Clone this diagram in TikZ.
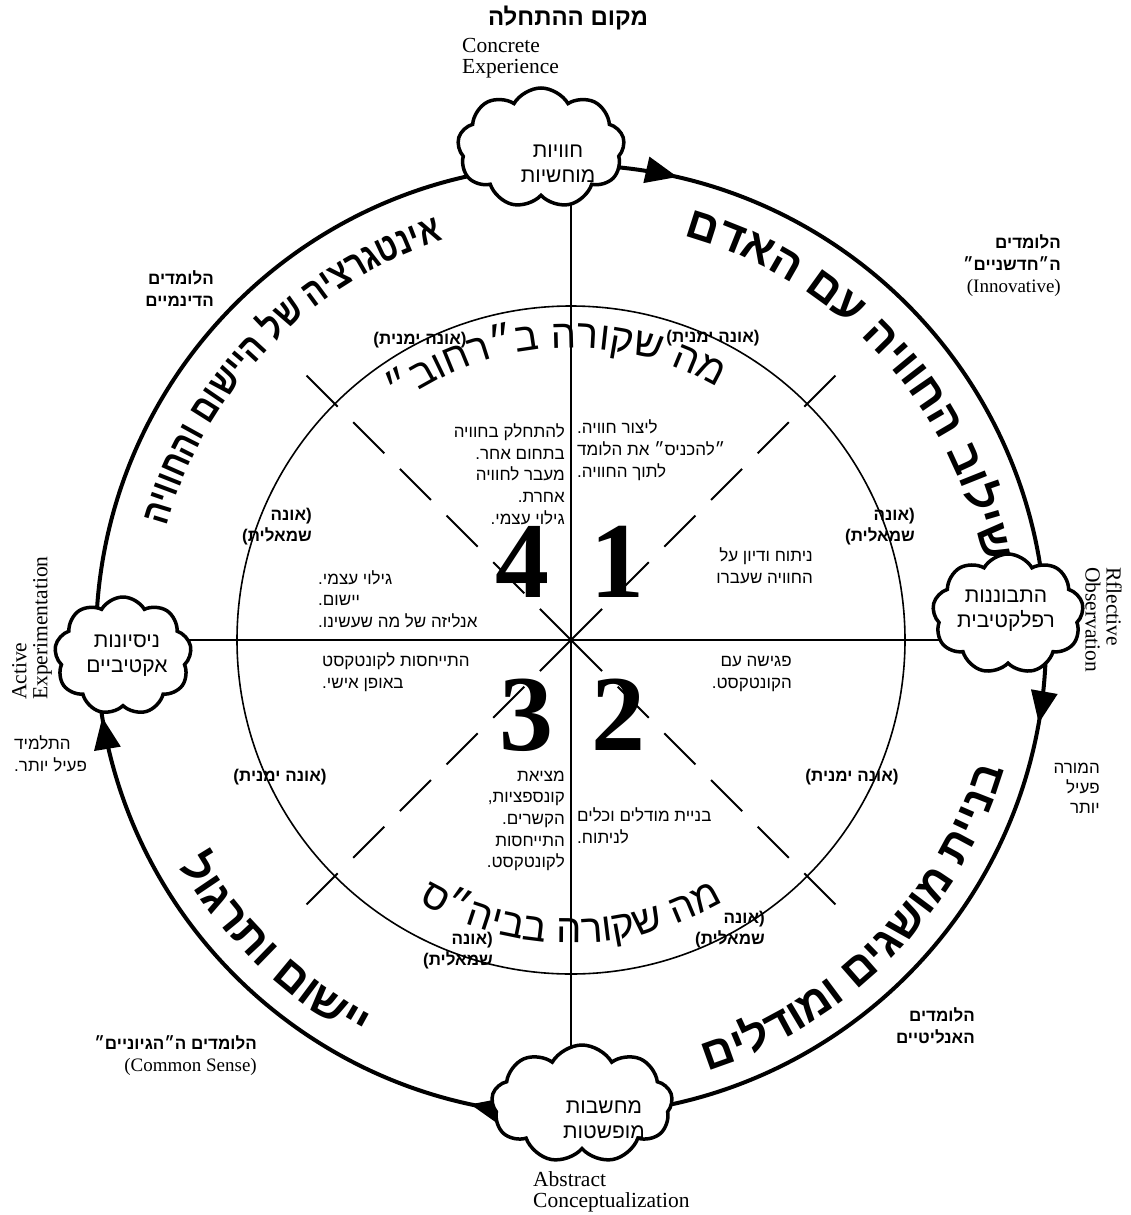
\documentclass[tikz,border=0pt]{standalone}
\usepackage{fontspec}
\setmainfont{Liberation Serif}
\newfontfamily\heb[Script=Hebrew]{Liberation Sans}
\newfontfamily\hebnarrow[Script=Hebrew,FakeStretch=0.8]{Liberation Sans}
\TeXXeTstate=1
\usetikzlibrary{shapes.symbols,decorations.text,decorations.markings,arrows.meta,backgrounds}
\newcommand{\hb}[1]{\beginR#1\endR}
\newcommand{\arcfont}{\heb\bfseries\fontsize{45}{45}\selectfont}
\newcommand{\arcnarrow}{\hebnarrow\bfseries\fontsize{39}{39}\selectfont}
\newcommand{\innerfont}{\heb\fontsize{40}{40}\selectfont}

\begin{document}
\begin{tikzpicture}[x=1pt,y=-1pt,
  cloudbox/.style={cloud,cloud puffs=9,cloud puff arc=120,draw,line width=3.5pt,
    fill=white,inner sep=0pt},
  stagetext/.style={align=center,inner sep=0pt,font=\heb\fontsize{21}{25}\selectfont},
  lobe/.style={font=\heb\bfseries\fontsize{17}{21}\selectfont,align=right,inner sep=0pt},
  note/.style={font=\heb\fontsize{17}{21.7}\selectfont,inner sep=0pt},
  learners/.style={font=\heb\bfseries\fontsize{17}{22}\selectfont,align=right,inner sep=0pt},
  eng/.style={font=\fontsize{21.5}{21}\selectfont,align=left,inner sep=0pt},
  digit/.style={font=\bfseries\fontsize{108}{108}\selectfont,inner sep=0pt},
  diag/.style={line width=2pt,dash pattern=on 44pt off 22pt},
  alongarc/.style={decorate,decoration={text along path,text align=center,text={#1}}}]
\useasboundingbox (0,0) rectangle (1130,1215);
\coordinate (ctr) at (571,640);

% the four stages
\node[cloudbox,minimum width=167,minimum height=120] (ctop) at (541,148) {};
\node[cloudbox,minimum width=151,minimum height=120] (cright) at (1008,614) {};
\node[cloudbox,minimum width=181,minimum height=118] (cbot) at (582,1104) {};
\node[cloudbox,minimum width=137,minimum height=118] (cleft) at (123,656) {};
\node[stagetext] (ttop) at (558,164) {\hb{חוויות}\\\hb{מוחשיות}};
\node[stagetext] (tright) at (1006,611) {\hb{התבוננות}\\\hb{רפלקטיבית}};
\node[stagetext] (tbot) at (604,1120) {\hb{מחשבות}\\\hb{מופשטות}};
\node[stagetext] (tleft) at (127,656) {\hb{ניסיונות}\\\hb{אקטיביים}};

% cycle, axes and quadrants
\begin{pgfonlayer}{background}
\draw[line width=4pt,postaction={decorate},decoration={markings,
  mark=at position 0.028 with {\arrow{Triangle[length=32pt,width=26pt]}},
  mark=at position 0.284 with {\arrow{Triangle[length=32pt,width=26pt]}},
  mark=at position 0.474 with {\arrow{Triangle[length=32pt,width=26pt]}},
  mark=at position 0.786 with {\arrow{Triangle[length=32pt,width=26pt]}}}]
  (ctr) circle[radius=475];
\draw[line width=2.2pt] (ctr |- ctop) -- (ctr |- cbot);
\draw[line width=2.2pt] (cleft |- ctr) -- (cright |- ctr);
\draw[line width=1.6pt] (ctr) circle[radius=334];
\foreach \a in {45,135,225,315}
  \draw[diag] (ctr) -- ++(\a:375);
\end{pgfonlayer}

% curved titles
\path[alongarc={|\arcfont|םדאה םע היווחה בוליש}] (ctr) ++(-88.5:420) arc[start angle=-88.5,end angle=3.5,radius=420];
\path[alongarc={|\arcnarrow|היווחהו םושייה לש היצרגטניא}] (ctr) ++(-182:420) arc[start angle=-182,end angle=-90,radius=420];
\path[alongarc={|\arcfont|םילדומו םיגשומ תיינב}] (ctr) ++(90.5:452) arc[start angle=90.5,end angle=-1.5,radius=452];
\path[alongarc={|\arcfont|לוגרתו םושיי}] (ctr) ++(174:452) arc[start angle=174,end angle=94,radius=452];
\path[alongarc={|\innerfont|״בוחר״ב הרוקש המ}] (ctr) ++(-153:292) arc[start angle=-153,end angle=-33,radius=292];
\path[alongarc={|\innerfont|ס״היבב הרוקש המ}] (ctr) ++(150:303) arc[start angle=150,end angle=30,radius=303];

% quadrant numbers
\node[digit] (q4) at (522,562) {4};
\node[digit] (q1) at (617,562) {1};
\node[digit] (q3) at (526,715) {3};
\node[digit] (q2) at (618,715) {2};

% hemispheres
\node[lobe] (lobeA) at (420,340) {\hb{(אונה ימנית)}};
\node[lobe] (lobeB) at (713,338) {\hb{(אונה ימנית)}};
\node[lobe,anchor=east] (lobeC) at (312,527) {\hb{(אונה}\\\hb{שמאלית)}};
\node[lobe,anchor=east] (lobeD) at (915,527) {\hb{(אונה}\\\hb{שמאלית)}};
\node[lobe] (lobeE) at (280,777) {\hb{(אונה ימנית)}};
\node[lobe] (lobeF) at (852,777) {\hb{(אונה ימנית)}};
\node[lobe,anchor=east] (lobeG) at (493,951) {\hb{(אונה}\\\hb{שמאלית)}};
\node[lobe,anchor=east] (lobeH) at (765,930) {\hb{(אונה}\\\hb{שמאלית)}};

% quadrant texts
\node[note,align=right,anchor=east] (n4a) at (565,474) {\hb{להתחלק בחוויה}\\\hb{בתחום אחר.}\\\hb{מעבר לחוויה}\\\hb{אחרת.}\\\hb{גילוי עצמי.}};
\node[note,align=left,anchor=west] (n1a) at (577,450) {\hb{ליצור חוויה.}\\\hb{״להכניס״ את הלומד}\\\hb{לתוך החוויה.}};
\node[note,align=left,anchor=west] (n4b) at (318,599) {\hb{גילוי עצמי.}\\\hb{יישום.}\\\hb{אנליזה של מה שעשינו.}};
\node[note,align=right,anchor=east] (n1b) at (813,566) {\hb{ניתוח ודיון על}\\\hb{החוויה שעברו}};
\node[note,align=left,anchor=west] (n3a) at (322,672) {\hb{התייחסות לקונטקסט}\\\hb{באופן אישי.}};
\node[note,align=right,anchor=east] (n2a) at (792,674) {\hb{פגישה עם}\\\hb{הקונטקסט.}};
\node[note,align=right,anchor=east] (n3b) at (565,821) {\hb{מציאת}\\\hb{קונספציות,}\\\hb{הקשרים.}\\\hb{התייחסות}\\\hb{לקונטקסט.}};
\node[note,align=left,anchor=west] (n2b) at (577,826) {\hb{בניית מודלים וכלים}\\\hb{לניתוח.}};

% outer labels
\node[font=\heb\bfseries\fontsize{24}{24}\selectfont] (start) at (568,18) {\hb{מקום ההתחלה}};
\node[eng,anchor=west] (ce) at (462,58) {Concrete\\Experience};
\node[eng,rotate=-90,anchor=north west] (ro) at (1122,567) {Rflective\\Observation};
\node[eng,anchor=west] (ac) at (533,1192) {Abstract\\Conceptualization};
\node[eng,rotate=90,anchor=north west] (ae) at (12,700) {Active\\Experimentation};
\node[learners,anchor=east] (innov) at (1061,266) {\hb{הלומדים}\\\hb{ה״חדשניים״}\\{\rmfamily\mdseries\fontsize{19}{22}\selectfont(Innovative)}};
\node[learners,anchor=east] (dyn) at (214,289) {\hb{הלומדים}\\\hb{הדינמיים}};
\node[learners,anchor=east] (anal) at (975,1026) {\hb{הלומדים}\\\hb{האנליטיים}};
\node[learners,anchor=east] (comm) at (257,1056) {\hb{הלומדים ה״הגיוניים״}\\{\rmfamily\mdseries\fontsize{19}{22}\selectfont(Common Sense)}};
\node[note,align=left,anchor=west] (pupil) at (14,754) {\hb{התלמיד}\\\hb{פעיל יותר.}};
\node[note,align=right,anchor=east,font=\heb\fontsize{17}{20}\selectfont] (teacher) at (1100,788) {\hb{המורה}\\\hb{פעיל}\\\hb{יותר}};
\end{tikzpicture}
\end{document}
